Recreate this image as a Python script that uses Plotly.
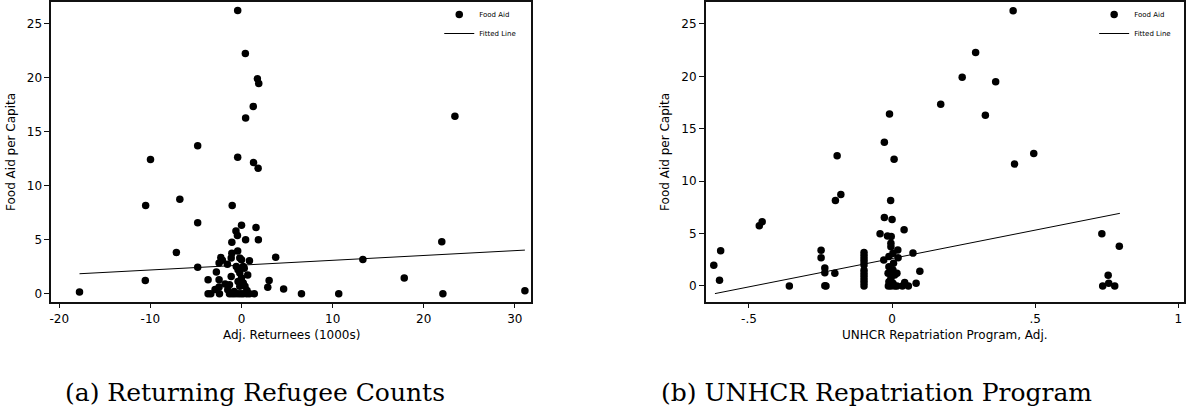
import plotly.graph_objects as go

# ---------------- data: panel (a) ----------------
ret_x = [-17.78, -10.52, -10.56, -9.99, -7.15, -6.77, -4.81, -4.81, -4.81,
         -3.67, -3.37, -3.67, -2.76, -2.46, -2.42, -2.46, -2.27, -2.46, -2.1, -1.55,
         -1.32, -1.51, -1.32, -1.02, -0.72, -0.38, -0.08, 0.19, 0.57, 0.87, 1.40,
         -1.13, -1.06, -1.13, -1.06, -1.02, -0.42, -0.19, 0.0, 0.19, -0.38, -0.19,
         0.0, 0.19, -0.19, -0.38, 0.38, 0.68, 0.87, 0.30, -0.57, -0.61, -0.45,
         0.0, 0.45, 1.59, 1.85, -0.42, 0.42, 1.74, 1.89, 1.29, 0.45, 1.32, 1.82,
         -0.42, 2.88, 3.03, 3.75, 4.62, 6.58, 10.67, 13.32, 17.86, 21.98, 22.10,
         23.42, 31.1, -0.8, 0.6, -1.8, -2.9]
ret_y = [0.15, 8.17, 1.23, 12.43, 3.82, 8.76, 13.72, 6.57, 2.44,
         0.0, 0.0, 1.30, 2.0, 1.30, 0.0, 0.62, 3.36, 2.84, 3.1, 2.74,
         0.83, 0.37, 0.0, 0.0, 0.0, 0.0, 0.0, 0.0, 0.0, 0.0, 0.0,
         1.6, 3.76, 3.3, 4.78, 8.17, 3.95, 3.3, 3.14, 2.53, 2.22, 1.91,
         1.45, 0.99, 0.68, 1.14, 0.68, 1.73, 3.05, 2.37, 2.53, 5.80, 5.40,
         6.35, 5.0, 6.14, 5.0, 26.24, 22.26, 19.92, 19.49, 17.36, 16.28, 12.15, 11.63,
         12.64, 0.59, 1.23, 3.39, 0.43, 0.0, 0.0, 3.18, 1.45, 4.81, 0.0,
         16.44, 0.28, 0.2, 0.3, 0.9, 0.4]
ret_fit_x = [-17.78, 31.1]
ret_fit_y = [1.85, 4.04]

# ---------------- data: panel (b) ----------------
unh_x = [0.423, 0.292, 0.245, 0.362, 0.170, 0.326, -0.009, -0.027, -0.192, 0.007,
         0.495, 0.428, -0.198, -0.179, -0.005, -0.454, -0.464, -0.027, 0.0, 0.042,
         -0.042, -0.016, -0.003, 0.733, 0.794, -0.599, -0.623, -0.603, -0.359,
         -0.248, -0.248, -0.235, -0.235, -0.200, -0.235, -0.231,
         -0.098, -0.098, -0.098, -0.098, -0.098, -0.098, -0.098, -0.098, -0.098, -0.098, -0.098,
         -0.029, 0.073, 0.020, 0.021, 0.097, 0.084, 0.044, 0.057, 0.036,
         0.755, 0.736, 0.757, 0.778,
         -0.004, -0.004, 0.003, -0.011, 0.005, -0.011, 0.003, -0.014, 0.009, -0.004,
         -0.011, 0.003, -0.013, -0.004, 0.009, 0.017, 0.017]
unh_y = [26.27, 22.27, 19.92, 19.50, 17.34, 16.30, 16.42, 13.72, 12.42, 12.10,
         12.64, 11.63, 8.16, 8.74, 8.16, 6.13, 5.75, 6.54, 6.35, 5.37,
         4.99, 4.76, 4.73, 4.99, 3.78, 3.37, 1.97, 0.54, 0.0,
         3.40, 2.70, 1.72, 1.27, 1.21, 0.03, 0.0,
         0.0, 0.3, 0.6, 0.9, 1.2, 1.5, 2.0, 2.3, 2.6, 2.9, 3.2,
         2.48, 3.14, 3.43, 2.70, 1.40, 0.25, 0.32, 0.0, 0.0,
         1.02, 0.0, 0.25, 0.0,
         3.75, 4.07, 3.11, 2.8, 2.16, 1.84, 1.52, 1.21, 1.05, 0.73,
         0.41, 0.25, 0.0, 0.0, 0.0, 1.21, 0.0]
unh_fit_x = [-0.619, 0.796]
unh_fit_y = [-0.73, 6.93]

# tick labels
a_xticks = [-20, -10, 0, 10, 20, 30]
a_xtext = ["-20", "-10", "0", "10", "20", "30"]
b_xticks = [-0.5, 0, 0.5, 1]
b_xtext = ["-.5", "0", ".5", "1"]
yticks = [0, 5, 10, 15, 20, 25]

W, H = 1186, 410
sans = "DejaVu Sans"
serif = "DejaVu Serif"
ink = "#000000"

fig = go.Figure()
fig.add_trace(go.Scatter(x=ret_x, y=ret_y, mode="markers", name="Food Aid",
                         marker=dict(size=7.5, color=ink),
                         xaxis="x", yaxis="y", legend="legend"))
fig.add_trace(go.Scatter(x=ret_fit_x, y=ret_fit_y, mode="lines", name="Fitted Line",
                         line=dict(color=ink, width=1),
                         xaxis="x", yaxis="y", legend="legend"))
fig.add_trace(go.Scatter(x=unh_x, y=unh_y, mode="markers", name="Food Aid",
                         marker=dict(size=7.5, color=ink),
                         xaxis="x2", yaxis="y2", legend="legend2"))
fig.add_trace(go.Scatter(x=unh_fit_x, y=unh_fit_y, mode="lines", name="Fitted Line",
                         line=dict(color=ink, width=1),
                         xaxis="x2", yaxis="y2", legend="legend2"))

ax_common = dict(showgrid=False, zeroline=False, showline=True, mirror=True,
                 linecolor="#111", linewidth=1.6, ticks="outside", ticklen=5,
                 tickwidth=1.2, tickcolor="#111",
                 tickfont=dict(family=sans, size=12, color=ink))

yd = [0.2642, 0.9944]
fig.update_layout(
    width=W, height=H, margin=dict(l=0, r=0, t=0, b=0),
    paper_bgcolor="white", plot_bgcolor="white",
    xaxis=dict(domain=[0.0416, 0.4471], range=[-20.88, 31.81], tickvals=a_xticks,
               ticktext=a_xtext, anchor="y", **ax_common),
    yaxis=dict(domain=yd, range=[-0.74, 27.01], tickvals=yticks, anchor="x", **ax_common),
    xaxis2=dict(domain=[0.5944, 0.9983], range=[-0.651, 1.02], tickvals=b_xticks,
                ticktext=b_xtext, anchor="y2", **ax_common),
    yaxis2=dict(domain=yd, range=[-1.50, 27.07], tickvals=yticks, anchor="x2", **ax_common),
    legend=dict(x=438 / W, y=1.0, xanchor="left", yanchor="top",
                font=dict(family=sans, size=7, color=ink), bgcolor="rgba(0,0,0,0)",
                tracegroupgap=0),
    legend2=dict(x=1094 / W, y=1.0, xanchor="left", yanchor="top",
                 font=dict(family=sans, size=7, color=ink), bgcolor="rgba(0,0,0,0)",
                 tracegroupgap=0),
    showlegend=True,
)

ann = []
ann.append(dict(text="Adj. Returnees (1000s)", x=289.8 / W, y=1 - 335 / H))
ann.append(dict(text="UNHCR Repatriation Program, Adj.", x=944.5 / W, y=1 - 335 / H))
for a in ann:
    a.update(xref="paper", yref="paper", showarrow=False, xanchor="center", yanchor="middle",
             font=dict(family=sans, size=12, color=ink))
for xp in (9, 664):
    ann.append(dict(text="Food Aid per Capita", x=xp / W, y=1 - 152 / H, textangle=-90,
                    xref="paper", yref="paper", showarrow=False, xanchor="center",
                    yanchor="middle", font=dict(family=sans, size=12, color=ink)))
ann.append(dict(text="(a) Returning Refugee Counts", x=253 / W, y=1 - 392 / H,
                xref="paper", yref="paper", showarrow=False, xanchor="center", yanchor="middle",
                font=dict(family=serif, size=25, color=ink)))
ann.append(dict(text="(b) UNHCR Repatriation Program", x=876 / W, y=1 - 392 / H,
                xref="paper", yref="paper", showarrow=False, xanchor="center", yanchor="middle",
                font=dict(family=serif, size=25, color=ink)))
fig.update_layout(annotations=ann)

fig.write_html("out.html", config={"displayModeBar": False},
               post_script="document.body.style.margin='0';document.body.style.padding='0';")
